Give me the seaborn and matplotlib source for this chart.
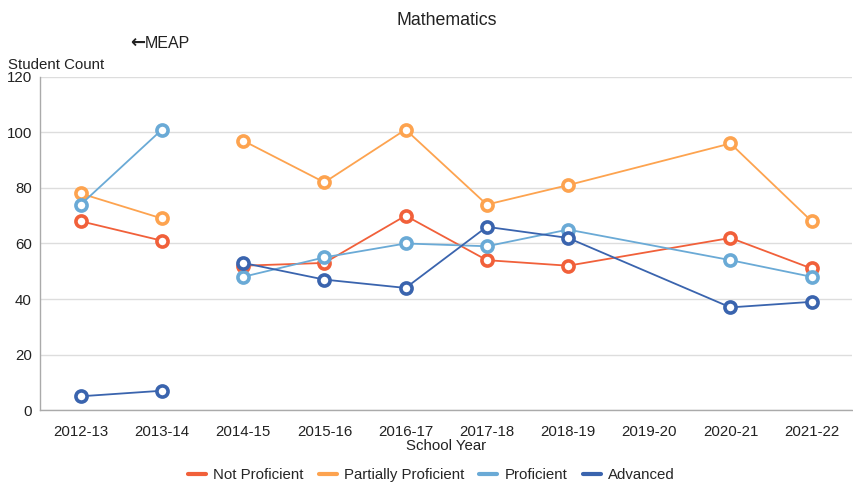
import pandas as pd
import numpy as np
import matplotlib
matplotlib.use('Agg')
import matplotlib.pyplot as plt
from matplotlib.lines import Line2D
from matplotlib.ticker import FixedLocator
import seaborn as sns

years = ['2012-13', '2013-14', '2014-15', '2015-16', '2016-17',
         '2017-18', '2018-19', '2019-20', '2020-21', '2021-22']
levels = ['Not Proficient', 'Partially Proficient', 'Proficient', 'Advanced']
# 2012-13 and 2013-14 are MEAP years; 2019-20 has no data
not_proficient = [68, 61, 52, 53, 70, 54, 52, np.nan, 62, 51]
partially_proficient = [78, 69, 97, 82, 101, 74, 81, np.nan, 96, 68]
proficient = [74, 101, 48, 55, 60, 59, 65, np.nan, 54, 48]
advanced = [5, 7, 53, 47, 44, 66, 62, np.nan, 37, 39]
era = ['MEAP', 'MEAP', 'M-STEP', 'M-STEP', 'M-STEP', 'M-STEP',
       'M-STEP', 'M-STEP', 'M-STEP', 'M-STEP']
colors = ['#F1603A', '#FDA34F', '#6AAAD6', '#3A64AE']

rows = []
for lvl, vals in zip(levels, [not_proficient, partially_proficient, proficient, advanced]):
    for i, (y, v) in enumerate(zip(years, vals)):
        rows.append({'pos': i, 'year': y, 'level': lvl, 'count': v, 'era': era[i]})
df = pd.DataFrame(rows).dropna()

sns.set_theme(style="white")
plt.rcParams['font.family'] = ['Liberation Sans', 'DejaVu Sans']

fig = plt.figure(figsize=(8.54, 4.86), dpi=100)
ax = fig.add_axes([0.047, 0.156, 0.951, 0.686])

sns.lineplot(data=df, x='pos', y='count', hue='level', units='era', estimator=None,
             hue_order=levels, palette=colors, marker='o', markersize=8,
             markerfacecolor='white', markeredgewidth=2.6, linewidth=1.3,
             legend=False, ax=ax)
for ln in ax.lines:
    ln.set_markeredgecolor(ln.get_color())

ax.set_xlim(-0.5, len(years) - 0.5)
ax.set_ylim(0, 120)
ax.set_yticks(range(0, 121, 20))
ax.set_xticks(range(len(years)))
ax.set_xticklabels(years)
ax.xaxis.set_minor_locator(FixedLocator(np.arange(-0.5, len(years), 1)))
ax.tick_params(axis='x', which='major', length=0, labelsize=10.8, pad=11, colors='#222222')
ax.tick_params(axis='x', which='minor', length=6, width=1, color='#aaaaaa', direction='out')
ax.tick_params(axis='y', length=0, labelsize=10.8, pad=6, colors='#222222')
ax.yaxis.grid(True, color='#dddddd', linewidth=1)
ax.set_axisbelow(True)
for s in ['top', 'right']:
    ax.spines[s].set_visible(False)
for s in ['left', 'bottom']:
    ax.spines[s].set_color('#aaaaaa')
    ax.spines[s].set_linewidth(1)

ax.set_xlabel('School Year', fontsize=10.8, labelpad=0, color='#222222')
ax.set_ylabel('')
fig.text(0.009, 0.867, 'Student Count', fontsize=10.8, color='#222222', ha='left', va='center')
fig.text(0.152, 0.911, '\u2190', fontsize=13, color='#222222', ha='left', va='center',
         family=['DejaVu Sans'], fontweight='bold')
fig.text(0.170, 0.911, 'MEAP', fontsize=11.5, color='#222222', ha='left', va='center')
fig.suptitle('Mathematics', x=0.523, y=0.975, fontsize=12.8, color='#222222')

handles = [Line2D([0], [0], color=c, linewidth=3) for c in colors]
fig.legend(handles, levels, loc='center', bbox_to_anchor=(0.505, 0.022), ncol=4,
           frameon=False, fontsize=10.8, handlelength=1.2, handletextpad=0.5, columnspacing=1.0)

plt.savefig('out.png', dpi=100)
